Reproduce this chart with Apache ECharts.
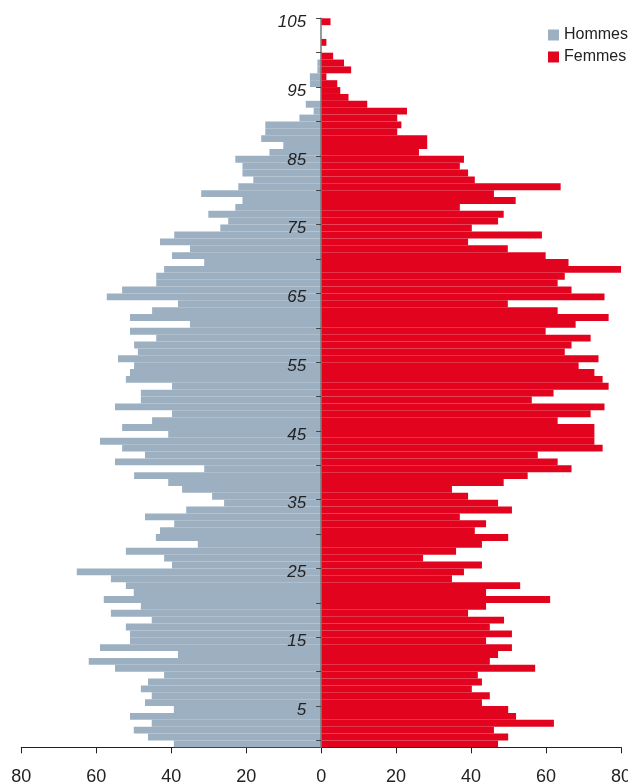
<!DOCTYPE html>
<html><head><meta charset="utf-8">
<script src="https://cdn.jsdelivr.net/npm/echarts@6/dist/echarts.min.js"></script>
<style>html,body{margin:0;padding:0;background:#fff}#c{width:628px;height:783px}</style>
</head><body><div id="c"></div>
<script>
const ages = [0,1,2,3,4,5,6,7,8,9,10,11,12,13,14,15,16,17,18,19,20,21,22,23,24,25,26,27,28,29,30,31,32,33,34,35,36,37,38,39,40,41,42,43,44,45,46,47,48,49,50,51,52,53,54,55,56,57,58,59,60,61,62,63,64,65,66,67,68,69,70,71,72,73,74,75,76,77,78,79,80,81,82,83,84,85,86,87,88,89,90,91,92,93,94,95,96,97,98,99,100,101,102,103,104,105];
const hommes = [39.3,46.2,50.0,45.2,51.0,39.3,47.0,45.2,48.1,46.2,
  41.9,55.0,62.0,38.2,59.0,51.0,51.0,52.1,45.2,56.1,
  48.1,58.0,50.0,52.1,56.1,65.2,39.8,41.9,52.1,32.9,
  44.1,43.0,39.2,47.0,36.0,25.9,29.1,37.1,40.8,49.9,
  31.2,55.0,47.0,53.1,59.0,40.8,53.1,45.1,39.8,55.0,
  48.1,48.1,39.8,52.1,51.0,49.9,54.2,48.9,49.9,44.0,
  51.0,35.0,51.0,45.1,38.2,57.2,53.1,44.0,44.0,41.9,
  31.2,39.8,35.0,43.0,39.2,26.9,24.8,30.1,22.9,21.0,
  32.0,22.1,18.1,21.0,21.0,22.9,13.8,10.1,16.0,14.9,
  14.9,5.8,2.0,4.1,0,0,3.0,3.0,1.0,1.0,
  0,0,0,0,0,0];
const femmes = [47.2,49.9,46.1,62.1,52.0,49.9,42.9,45.0,40.2,42.9,
  41.8,57.1,45.0,47.2,50.9,44.0,50.9,45.0,48.8,39.2,
  44.0,61.1,44.0,53.1,34.9,38.1,42.9,27.2,36.0,42.9,
  49.9,41.0,44.0,37.0,50.9,47.2,39.2,34.9,48.7,55.1,
  66.8,63.1,57.8,75.1,72.9,72.9,72.9,63.1,71.9,75.6,
  56.2,62.0,76.7,75.1,72.9,68.7,74.0,65.0,66.8,71.9,
  59.9,67.9,76.7,63.1,49.8,75.6,66.8,63.1,65.0,80.0,
  66.0,59.9,49.8,39.2,58.9,40.2,47.2,48.7,37.0,51.9,
  46.1,63.9,41.0,39.2,37.0,38.1,26.1,28.3,28.3,20.3,
  21.4,20.3,22.9,12.3,7.3,5.1,4.3,1.4,8.0,6.1,
  3.2,0,1.4,0,0,2.5];
const xTicks = [-80,-60,-40,-20,0,20,40,60,80];
const yTickValues = [0,5,10,15,20,25,30,35,40,45,50,55,60,65,70,75,80,85,90,95,100,105];
const yLabelValues = [5,15,25,35,45,55,65,75,85,95,105];

const FONT = "'Liberation Sans Narrow','Arial Narrow','Liberation Sans',Arial,sans-serif";
const W = 628, GL = 21.3, GR = 7;
const chart = echarts.init(document.getElementById('c'), null, {renderer:'canvas'});
chart.setOption({
  animation: false,
  backgroundColor: '#fff',
  textStyle: {fontFamily: FONT},
  grid: {left: GL, right: GR, top: 18.3, bottom: 35.7, containLabel: false, outerBoundsMode: 'none'},
  legend: {
    data: ['Hommes','Femmes'],
    orient: 'vertical', left: 548, top: 27, padding: 0,
    icon: 'rect', itemWidth: 11, itemHeight: 11, itemGap: 6,
    textStyle: {fontFamily: FONT, fontSize: 16, color: '#222'}
  },
  xAxis: {
    type: 'value', min: xTicks[0], max: xTicks[xTicks.length-1], interval: 20,
    axisLine: {show: true, onZero: false, lineStyle: {color: '#222', width: 1}},
    axisTick: {show: true, length: 6, lineStyle: {color: '#222'}},
    axisLabel: {formatter: v => String(Math.abs(v)), fontSize: 18, color: '#222', margin: 21, fontFamily: FONT},
    splitLine: {show: false}
  },
  yAxis: [
    {type: 'category', data: ages, show: false, boundaryGap: true},
    {type: 'value', min: -1, max: 105, position: 'left', offset: -(W - GL - GR) / 2, z: 10,
     axisLine: {show: true, onZero: false, lineStyle: {color: '#777', width: 1.5}},
     axisTick: {show: true, length: 5, customValues: yTickValues, lineStyle: {color: '#444'}},
     axisLabel: {customValues: yLabelValues, margin: 15,
       formatter: v => '{a|' + v + '}',
       rich: {a: {fontStyle: 'italic', fontSize: 17, color: '#222', fontFamily: FONT, padding: [8,0,0,0]}}},
     splitLine: {show: false}}
  ],
  series: [
    {name: 'Hommes', type: 'bar', yAxisIndex: 0, data: hommes.map(v => -v),
     barCategoryGap: '0%', barGap: '-100%', itemStyle: {color: '#9CB0C2'}, z: 1},
    {name: 'Femmes', type: 'bar', yAxisIndex: 0, data: femmes,
     barCategoryGap: '0%', barGap: '-100%', itemStyle: {color: '#E2041F'}, z: 1}
  ]
});
</script></body></html>
